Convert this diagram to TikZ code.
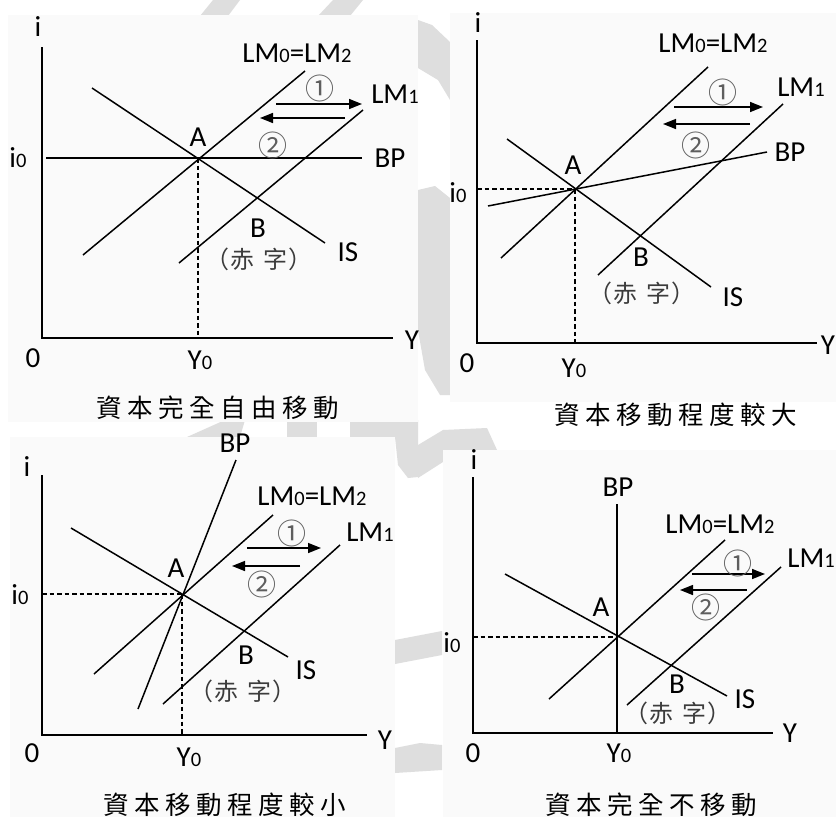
\documentclass[tikz,border=0pt]{standalone}
\usepackage{fontspec}
\setmainfont{Carlito}
\newfontfamily\cjk{Noto Sans CJK TC}
\usetikzlibrary{arrows.meta}
\definecolor{panelbg}{HTML}{FAFAFA}
\definecolor{wmgray}{HTML}{DEDEDE}
\definecolor{circgray}{HTML}{5E5E5E}
\definecolor{deficgray}{HTML}{3C3C3C}
\newcommand\lblfont{\fontsize{29}{31}\selectfont}
\newcommand\sd[1]{{\fontsize{20.5}{22}\selectfont #1}}
\newcommand\circfont{\cjk\fontsize{29}{30}\selectfont}
\newcommand\deficfont{\cjk\fontsize{24}{26}\selectfont}
\newcommand\capfont{\cjk\fontsize{25.5}{27}\selectfont}
\newcommand\ck{\kern5.5pt}
\newcommand\deficit{（\kern1pt 赤\kern9pt 字\kern1pt ）}
\tikzset{
  curve/.style={line width=1.5pt},
  axis/.style={line width=1.7pt},
  guide/.style={line width=1.6pt, dash pattern=on 4.5pt off 3pt},
  shiftarrow/.style={line width=1.5pt, -{Triangle[length=13pt,width=10pt]}},
  lbl/.style={font=\lblfont, inner sep=0pt},
  circ/.style={font=\circfont, text=circgray, inner sep=0pt},
  defic/.style={font=\deficfont, text=deficgray, inner sep=0pt},
  captext/.style={font=\capfont, inner sep=0pt},
  wm/.style={fill=wmgray, draw=none},
  panel/.style={fill=panelbg, draw=none}
}
\begin{document}
\begin{tikzpicture}[x=1pt,y=-1pt]
\useasboundingbox (0,0) rectangle (836,817);
\fill[white] (0,0) rectangle (836,817);
% watermark fragments
\fill[wm] (333,0) -- (363,0) -- (350,16) -- (318,16) -- cycle;
\fill[wm] (213,0) -- (240,0) -- (228,16) -- (200,16) -- cycle;
\fill[wm] (418,20) -- (432,25) -- (450,42) -- (450,100) -- (438,80) -- (418,68) -- cycle;
\fill[wm] (418,190) -- (435,186) -- (450,198) -- (450,395) -- (440,395) -- (425,370) -- (418,330) -- cycle;
\fill[wm] (187,437) -- (225,420) -- (245,420) -- (240,437) -- cycle;
\fill[wm] (287,420) -- (317,420) -- (317,437) -- (287,437) -- cycle;
\fill[wm] (350,420) -- (418,420) -- (418,477) -- (408,478) -- (398,465) -- (395,437) -- (350,437) -- cycle;
\fill[wm] (443,430) -- (487,428) -- (497,450) -- (443,450) -- (443,462) -- (418,478) -- (418,445) -- cycle;
\fill[wm] (395,640) -- (442,631) -- (442,655) -- (395,664) -- cycle;
\fill[wm] (395,748) -- (420,743) -- (442,745) -- (442,770) -- (395,773) -- cycle;
% panel backgrounds
\fill[panel] (8,15) rectangle (418,422);
\fill[panel] (450,13) rectangle (836,402);
\fill[panel] (10,437) rectangle (395,817);
\fill[panel] (443,450) rectangle (836,817);

%%%%%%%% Panel 1: 資本完全自由移動
\coordinate (o1) at (42,338);
\coordinate (y1top) at (42,47);
\coordinate (x1end) at (393,338);
\draw[axis] (y1top) -- (o1) -- (x1end);
\node[lbl] (i1) at (38,27) {i};
\node[lbl] (Y1) at (412,340) {Y};
\node[lbl] (O1) at (33,358) {0};
\node[lbl] (Y01) at (200,360) {Y\sd{0}};
\node[lbl] (i01) at (18,158) {i\sd{0}};
\coordinate (a1) at (198,158);
\coordinate (a1x) at (198,338);
\coordinate (bp1a) at (46,158);
\coordinate (bp1b) at (362,158);
\coordinate (lm01a) at (83,255);
\coordinate (lm01b) at (305,71);
\coordinate (lm11a) at (179,263);
\coordinate (lm11b) at (363,110);
\coordinate (is1a) at (92,88);
\coordinate (is1b) at (325,243);
\draw[curve] (bp1a) -- (bp1b);
\draw[curve] (lm01a) -- (lm01b);
\draw[curve] (lm11a) -- (lm11b);
\draw[curve] (is1a) -- (is1b);
\draw[guide] (a1) -- (a1x);
\node[lbl] (A1) at (198,137) {A};
\node[lbl] (B1) at (258,228) {B};
\node[defic] (d1) at (259,259) {\deficit};
\node[lbl] (IS1) at (348,252) {IS};
\node[lbl] (BP1) at (390,158) {BP};
\node[lbl] (LM01) at (297,53) {LM\sd{0}=LM\sd{2}};
\node[lbl] (LM11) at (395,94) {LM\sd{1}};
\coordinate (ar1a) at (276,104);
\coordinate (ar1b) at (362,104);
\coordinate (ar2a) at (345,118);
\coordinate (ar2b) at (260,118);
\draw[shiftarrow] (ar1a) -- (ar1b);
\draw[shiftarrow] (ar2a) -- (ar2b);
\node[circ] (c11) at (320,88) {①};
\node[circ] (c21) at (273,145) {②};
\node[captext] (cap1) at (218,408) {資\ck 本\ck 完\ck 全\ck 自\ck 由\ck 移\ck 動};

%%%%%%%% Panel 2: 資本移動程度較大
\coordinate (o2) at (477,343);
\coordinate (y2top) at (477,40);
\coordinate (x2end) at (817,343);
\draw[axis] (y2top) -- (o2) -- (x2end);
\node[lbl] (i2) at (478,23) {i};
\node[lbl] (Y2) at (828,345) {Y};
\node[lbl] (O2) at (467,363) {0};
\node[lbl] (Y02) at (574,368) {Y\sd{0}};
\node[lbl] (i02) at (458,193) {i\sd{0}};
\coordinate (a2) at (575,189);
\coordinate (a2y) at (477,189);
\coordinate (a2x) at (575,343);
\coordinate (bp2a) at (488,206);
\coordinate (bp2b) at (767,152);
\coordinate (lm02a) at (501,258);
\coordinate (lm02b) at (708,67);
\coordinate (lm12a) at (598,275);
\coordinate (lm12b) at (783,104);
\coordinate (is2a) at (507,139);
\coordinate (is2b) at (711,287);
\draw[guide] (a2y) -- (a2);
\draw[guide] (a2) -- (a2x);
\draw[curve] (bp2a) -- (bp2b);
\draw[curve] (lm02a) -- (lm02b);
\draw[curve] (lm12a) -- (lm12b);
\draw[curve] (is2a) -- (is2b);
\node[lbl] (A2) at (573,165) {A};
\node[lbl] (B2) at (641,257) {B};
\node[defic] (d2) at (642,293) {\deficit};
\node[lbl] (IS2) at (733,297) {IS};
\node[lbl] (BP2) at (790,152) {BP};
\node[lbl] (LM02) at (713,43) {LM\sd{0}=LM\sd{2}};
\node[lbl] (LM12) at (801,87) {LM\sd{1}};
\coordinate (ar3a) at (674,107);
\coordinate (ar3b) at (763,107);
\coordinate (ar4a) at (750,124);
\coordinate (ar4b) at (663,124);
\draw[shiftarrow] (ar3a) -- (ar3b);
\draw[shiftarrow] (ar4a) -- (ar4b);
\node[circ] (c12) at (723,92) {①};
\node[circ] (c22) at (696,145) {②};
\node[captext] (cap2) at (676,415) {資\ck 本\ck 移\ck 動\ck 程\ck 度\ck 較\ck 大};

%%%%%%%% Panel 3: 資本移動程度較小
\coordinate (o3) at (42,735);
\coordinate (y3top) at (42,475);
\coordinate (x3end) at (367,735);
\draw[axis] (y3top) -- (o3) -- (x3end);
\node[lbl] (i3) at (27,467) {i};
\node[lbl] (Y3) at (385,740) {Y};
\node[lbl] (O3) at (32,753) {0};
\node[lbl] (Y03) at (189,757) {Y\sd{0}};
\node[lbl] (i03) at (20,595) {i\sd{0}};
\coordinate (a3) at (182,594);
\coordinate (a3y) at (42,594);
\coordinate (a3x) at (182,735);
\coordinate (bp3a) at (138,709);
\coordinate (bp3b) at (236,460);
\coordinate (lm03a) at (94,674);
\coordinate (lm03b) at (273,515);
\coordinate (lm13a) at (163,704);
\coordinate (lm13b) at (340,545);
\coordinate (is3a) at (71,528);
\coordinate (is3b) at (288,657);
\draw[guide] (a3y) -- (a3);
\draw[guide] (a3) -- (a3x);
\draw[curve] (bp3a) -- (bp3b);
\draw[curve] (lm03a) -- (lm03b);
\draw[curve] (lm13a) -- (lm13b);
\draw[curve] (is3a) -- (is3b);
\node[lbl] (A3) at (176,568) {A};
\node[lbl] (B3) at (246,655) {B};
\node[defic] (d3) at (243,691) {\deficit};
\node[lbl] (IS3) at (306,670) {IS};
\node[lbl] (BP3) at (235,443) {BP};
\node[lbl] (LM03) at (312,496) {LM\sd{0}=LM\sd{2}};
\node[lbl] (LM13) at (370,532) {LM\sd{1}};
\coordinate (ar5a) at (247,548);
\coordinate (ar5b) at (321,548);
\coordinate (ar6a) at (300,566);
\coordinate (ar6b) at (232,566);
\draw[shiftarrow] (ar5a) -- (ar5b);
\draw[shiftarrow] (ar6a) -- (ar6b);
\node[circ] (c13) at (292,533) {①};
\node[circ] (c23) at (262,584) {②};
\node[captext] (cap3) at (225,805) {資\ck 本\ck 移\ck 動\ck 程\ck 度\ck 較\ck 小};

%%%%%%%% Panel 4: 資本完全不移動
\coordinate (o4) at (473,733);
\coordinate (y4top) at (473,477);
\coordinate (x4end) at (773,733);
\draw[axis] (y4top) -- (o4) -- (x4end);
\node[lbl] (i4) at (474,460) {i};
\node[lbl] (Y4) at (790,733) {Y};
\node[lbl] (O4) at (473,753) {0};
\node[lbl] (Y04) at (619,753) {Y\sd{0}};
\node[lbl] (i04) at (452,643) {i\sd{0}};
\coordinate (a4) at (617,637);
\coordinate (a4y) at (473,637);
\coordinate (bp4a) at (617,504);
\coordinate (bp4b) at (617,733);
\coordinate (lm04a) at (549,699);
\coordinate (lm04b) at (725,540);
\coordinate (lm14a) at (627,705);
\coordinate (lm14b) at (781,567);
\coordinate (is4a) at (505,574);
\coordinate (is4b) at (727,696);
\draw[guide] (a4y) -- (a4);
\draw[curve] (bp4a) -- (bp4b);
\draw[curve] (lm04a) -- (lm04b);
\draw[curve] (lm14a) -- (lm14b);
\draw[curve] (is4a) -- (is4b);
\node[lbl] (A4) at (601,607) {A};
\node[lbl] (B4) at (677,684) {B};
\node[defic] (d4) at (678,713) {\deficit};
\node[lbl] (IS4) at (745,699) {IS};
\node[lbl] (BP4) at (618,487) {BP};
\node[lbl] (LM04) at (720,524) {LM\sd{0}=LM\sd{2}};
\node[lbl, anchor=east] (LM14) at (835,558) {LM\sd{1}};
\coordinate (ar7a) at (692,574);
\coordinate (ar7b) at (765,574);
\coordinate (ar8a) at (747,590);
\coordinate (ar8b) at (680,590);
\draw[shiftarrow] (ar7a) -- (ar7b);
\draw[shiftarrow] (ar8a) -- (ar8b);
\node[circ] (c14) at (738,563) {①};
\node[circ] (c24) at (706,607) {②};
\node[captext] (cap4) at (651,805) {資\ck 本\ck 完\ck 全\ck 不\ck 移\ck 動};
\end{tikzpicture}
\end{document}
